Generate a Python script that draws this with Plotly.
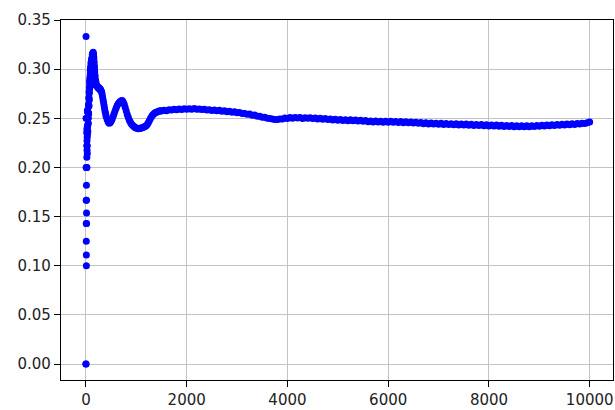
import plotly.graph_objects as go

# trial index (x) and running estimate (y)
x_early = list(range(0, 40))
y_early = [0.0, 0.0, 0.3333, 0.25, 0.2, 0.1667, 0.1429, 0.125, 0.1111, 0.1,
           0.1818, 0.1667, 0.1538, 0.1429, 0.2, 0.25, 0.2353, 0.2222, 0.2105, 0.2,
           0.2381, 0.2273, 0.2174, 0.25, 0.24, 0.2308, 0.2222, 0.2143, 0.2414, 0.2333,
           0.2581, 0.25, 0.2424, 0.2353, 0.2571, 0.25, 0.2432, 0.2368, 0.2564, 0.25]

x_peak = list(range(40, 202, 2))
y_peak = [0.25, 0.2558, 0.25, 0.2553, 0.2449, 0.2549, 0.2642, 0.2545, 0.2632, 0.2712,
          0.2623, 0.2698, 0.2769, 0.2687, 0.2754, 0.2817, 0.2877, 0.28, 0.2857, 0.2911,
          0.284, 0.2892, 0.2941, 0.2989, 0.2921, 0.2967, 0.3011, 0.2947, 0.299, 0.303,
          0.3069, 0.301, 0.3048, 0.2991, 0.3028, 0.3063, 0.3097, 0.3043, 0.3077, 0.3109,
          0.3058, 0.3089, 0.312, 0.315, 0.3101, 0.313, 0.3158, 0.3111, 0.3139, 0.3165,
          0.3121, 0.3147, 0.3172, 0.3129, 0.3154, 0.3113, 0.3137, 0.3097, 0.3121, 0.3082,
          0.3043, 0.3067, 0.303, 0.2994, 0.3018, 0.2982, 0.2948, 0.2971, 0.2938, 0.2905,
          0.2928, 0.2896, 0.2865, 0.2888, 0.2857, 0.288, 0.285, 0.2872, 0.2843, 0.2864,
          0.2836]

x_fall = list(range(210, 400, 10))
y_fall = [0.284, 0.283, 0.282, 0.281, 0.2815, 0.280, 0.2805, 0.279, 0.2795, 0.278,
          0.277, 0.275, 0.272, 0.269, 0.266, 0.263, 0.26, 0.257, 0.255]

x_wave = list(range(400, 1500, 20))
y_wave = [0.252, 0.249, 0.2465, 0.245, 0.2455, 0.247, 0.249, 0.252, 0.255, 0.258,
          0.2605, 0.263, 0.2648, 0.266, 0.267, 0.2678, 0.268, 0.2665, 0.2642, 0.261,
          0.2575, 0.254, 0.251, 0.2483, 0.2462, 0.2445, 0.2432, 0.2422, 0.2413, 0.2405,
          0.2402, 0.2398, 0.2395, 0.2396, 0.2398, 0.2401, 0.2404, 0.2408, 0.2413, 0.242,
          0.2428, 0.244, 0.2458, 0.2478, 0.2498, 0.2516, 0.253, 0.2542, 0.2551, 0.2558,
          0.2563, 0.2567, 0.2571, 0.2574, 0.2576]

x_tail = list(range(1500, 10000, 50)) + [9999]
y_tail = [0.2575, 0.2583, 0.2578, 0.2588, 0.2584, 0.2592, 0.2586, 0.2595, 0.2589, 0.2597,
          0.2591, 0.2598, 0.2592, 0.2599, 0.2593, 0.2596, 0.2589, 0.2593, 0.2584, 0.2588,
          0.2579, 0.2584, 0.2576, 0.2581, 0.2573, 0.2577, 0.2568, 0.2573, 0.2563, 0.2567,
          0.2556, 0.256, 0.2548, 0.255, 0.2541, 0.2543, 0.2531, 0.2533, 0.2521, 0.2522,
          0.2511, 0.251, 0.2501, 0.2498, 0.2492, 0.2489, 0.2487, 0.2492, 0.2494, 0.2502,
          0.2498, 0.2508, 0.2501, 0.2509, 0.2502, 0.2508, 0.2499, 0.2507, 0.25, 0.2506,
          0.2497, 0.2503, 0.2494, 0.25, 0.249, 0.2497, 0.2487, 0.2494, 0.2484, 0.249,
          0.248, 0.2488, 0.2478, 0.2486, 0.2476, 0.2485, 0.2475, 0.2483, 0.2472, 0.2481,
          0.2469, 0.2477, 0.2465, 0.2474, 0.2463, 0.2472, 0.2462, 0.2471, 0.2461, 0.247,
          0.246, 0.2469, 0.2459, 0.2468, 0.2458, 0.2467, 0.2456, 0.2465, 0.2454, 0.2463,
          0.2452, 0.246, 0.2449, 0.2458, 0.2446, 0.2455, 0.2443, 0.2453, 0.2441, 0.2451,
          0.2439, 0.2449, 0.2437, 0.2447, 0.2436, 0.2446, 0.2434, 0.2444, 0.2433, 0.2443,
          0.2431, 0.2441, 0.243, 0.244, 0.2428, 0.2438, 0.2426, 0.2437, 0.2425, 0.2435,
          0.2423, 0.2433, 0.2421, 0.2431, 0.2419, 0.2429, 0.2417, 0.2428, 0.2416, 0.2427,
          0.2415, 0.2425, 0.2414, 0.2424, 0.2413, 0.2424, 0.2414, 0.2425, 0.2416, 0.2427,
          0.2419, 0.243, 0.2421, 0.2433, 0.2424, 0.2435, 0.2427, 0.2438, 0.2429, 0.244,
          0.2432, 0.2443, 0.2435, 0.2445, 0.2437, 0.2447, 0.2441, 0.245, 0.2448, 0.2456,
          0.2462]

x_vals = x_early + x_peak + x_fall + x_wave + x_tail
y_vals = y_early + y_peak + y_fall + y_wave + y_tail

x_ticks = [0, 2000, 4000, 6000, 8000, 10000]
y_ticks = [0.00, 0.05, 0.10, 0.15, 0.20, 0.25, 0.30, 0.35]

fig = go.Figure()
fig.add_trace(go.Scatter(
    x=x_vals, y=y_vals, mode="markers",
    marker=dict(color="#0000ff", size=7, line=dict(width=0)),
    showlegend=False, hoverinfo="skip"))

axis_common = dict(
    showline=True, linecolor="black", linewidth=1.2, mirror=True,
    showgrid=True, gridcolor="#c4c4c4", gridwidth=1.4,
    zeroline=False, ticks="outside", ticklen=6, tickwidth=1.2, tickcolor="black",
    tickfont=dict(family="DejaVu Sans", size=15, color="#222222"),
)

fig.update_layout(
    width=615, height=410,
    margin=dict(l=61, r=1, t=20, b=27),
    paper_bgcolor="white", plot_bgcolor="white",
    xaxis=dict(range=[-495, 10462], tickvals=x_ticks,
               ticktext=[str(v) for v in x_ticks], **axis_common),
    yaxis=dict(range=[-0.01615, 0.35], tickvals=y_ticks,
               ticktext=[f"{v:.2f}" for v in y_ticks], **axis_common),
)

fig.write_html("out.html")
